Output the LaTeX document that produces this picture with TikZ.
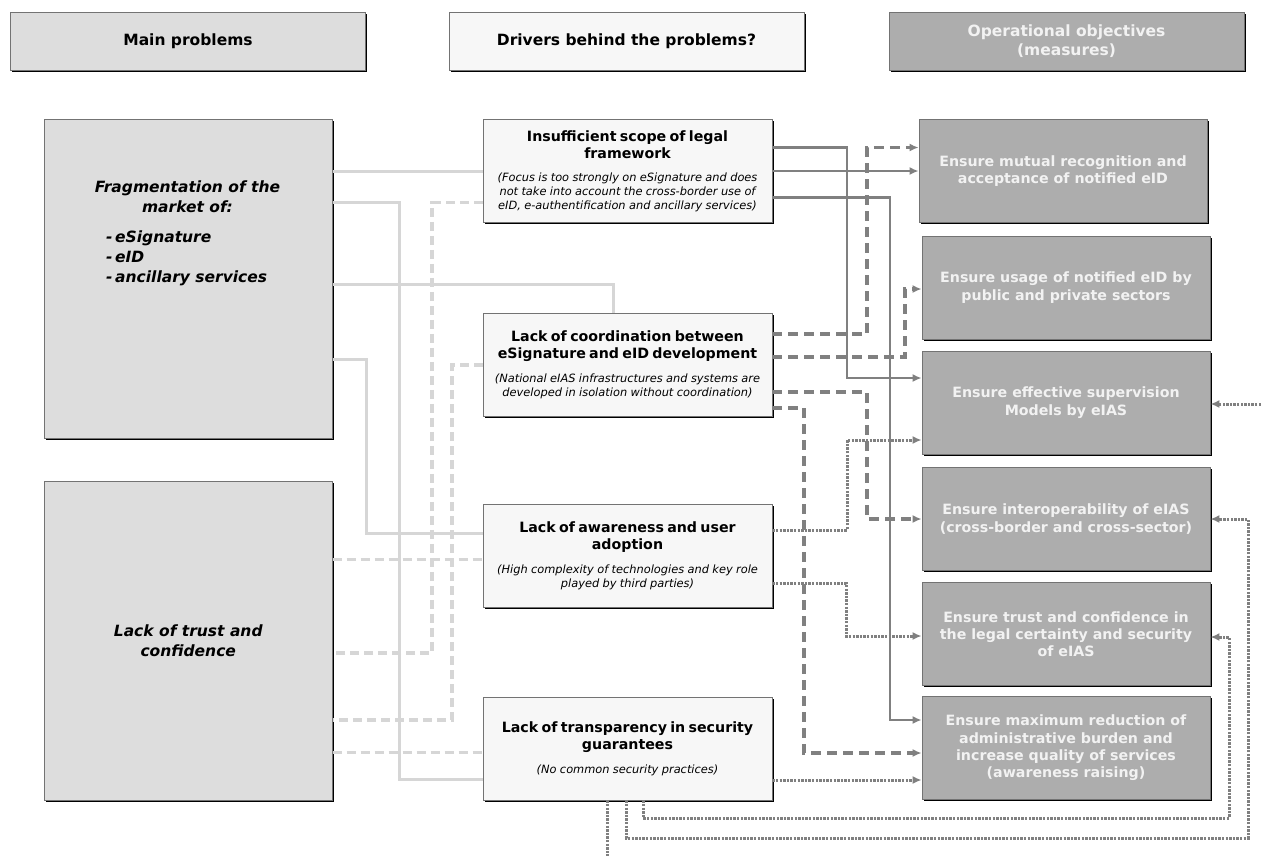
\documentclass[tikz,border=0pt]{standalone}
\usepackage{fontspec}
\setmainfont{DejaVu Sans}
\usepackage{tikz}
\usetikzlibrary{arrows.meta}
\usetikzlibrary{positioning}
\usetikzlibrary{shadows}
\definecolor{pale}{rgb}{0.97, 0.97, 0.97}
\definecolor{lgrey}{rgb}{0.866, 0.866, 0.866}
\definecolor{dgrey}{rgb}{0.68, 0.68, 0.68}
\definecolor{edge}{rgb}{0.45, 0.45, 0.45}
\definecolor{wirel}{rgb}{0.84, 0.84, 0.84}
\definecolor{wired}{rgb}{0.5, 0.5, 0.5}
\definecolor{ink}{rgb}{0.95, 0.95, 0.95}
\tikzset{card/.style = {draw = edge, line width = 0.8pt, inner sep = 0,
                        drop shadow = {shadow xshift = 1.5pt, shadow yshift = -1.5pt, fill = black, opacity = 1}}}
\tikzset{head/.style = {card, minimum width = 355pt, minimum height = 58pt, align = center,
                        font = \fontsize{15.5}{19}\selectfont\bfseries}}
\tikzset{prob/.style = {card, fill = lgrey, minimum width = 288pt, minimum height = 319pt, align = center,
                        font = \fontsize{15.5}{20}\selectfont\bfseries\itshape}}
\tikzset{probtext/.style = {font = \fontsize{15.5}{20}\selectfont\bfseries\itshape, align = center, inner sep = 0}}
\tikzset{driver/.style = {card, fill = pale, minimum width = 289pt, minimum height = 103pt,
                          text width = 288pt, align = center}}
\tikzset{goal/.style = {card, fill = dgrey, text = ink, minimum width = 288pt, minimum height = 103pt,
                        align = center, font = \fontsize{14.2}{17.3}\selectfont\bfseries}}
\tikzset{feed/.style = {wirel, line width = 3pt}}
\tikzset{feeddash/.style = {feed, line width = 3.3pt, dash pattern = on 9pt off 5pt}}
\tikzset{link/.style = {wired, line width = 2.3pt, -{Latex[length = 9pt, width = 8pt]}}}
\tikzset{linkdash/.style = {link, line width = 3.3pt, dash pattern = on 10pt off 6pt}}
\tikzset{linkdot/.style = {link, line width = 3pt, dash pattern = on 2.4pt off 1.2pt}}
\newcommand{\drvtitle}[1]{{\fontsize{14.2}{17}\selectfont\bfseries #1\par}\vspace{10pt}}
\newcommand{\drvnote}[1]{{\fontsize{11.4}{13.8}\selectfont\itshape #1\par}}

\begin{document}
\begin{tikzpicture}[x = 1pt, y = -1pt]
    \useasboundingbox (0, 0) rectangle (1261, 855);
    \clip (0, 0) rectangle (1261, 855);

    \node [head, fill = lgrey] (hprob) at (188, 41.5) {Main problems};
    \node [head, fill = pale] (hdriv) at (626.5, 41.5) {Drivers behind the problems?};
    \node [head, fill = dgrey, text = ink] (hgoal) at (1066.5, 41.5) {Operational objectives\\(measures)};

    \node [prob] (frag) at (188.25, 279.25) {};
    \node [probtext] (fragtext) at (187.5, 196.5) {Fragmentation of the\\market of:};
    \node [probtext, align = left, anchor = north west] (fraglist) at (106, 231) {-\,eSignature\\-\,eID\\-\,ancillary services};
    \node [prob] (trust) at (188.25, 640.5) {Lack of trust and\\confidence};

    \node [driver] (ins) at (627.5, 171) {\drvtitle{Insufficient scope of legal\\framework}\drvnote{(Focus is too strongly on eSignature and does\\not take into account the cross-border use of\\eID, e-authentification and ancillary services)}};
    \node [driver] (coord) at (627.5, 364.5) {\drvtitle{Lack of coordination between\\eSignature and eID development}\drvnote{(National eIAS infrastructures and systems are\\developed in isolation without coordination)}};
    \node [driver] (aware) at (627.5, 555.75) {\drvtitle{Lack of awareness and user\\adoption}\drvnote{(High complexity of technologies and key role\\played by third parties)}};
    \node [driver] (trans) at (627.5, 748.5) {\drvtitle{Lack of transparency in security\\guarantees}\drvnote{(No common security practices)}};

    \node [goal] (obj1) at (1063, 171) {Ensure mutual recognition and\\acceptance of notified eID};
    \node [goal] (obj2) at (1066, 287.5) {Ensure usage of notified eID by\\public and private sectors};
    \node [goal] (obj3) at (1066, 402.5) {Ensure effective supervision\\Models by eIAS};
    \node [goal] (obj4) at (1066, 519) {Ensure interoperability of eIAS\\(cross-border and cross-sector)};
    \node [goal] (obj5) at (1066, 634) {Ensure trust and confidence in\\the legal certainty and security\\of eIAS};
    \node [goal] (obj6) at (1066, 748) {Ensure maximum reduction of\\administrative burden and\\increase quality of services\\(awareness raising)};

    \draw [feed] (frag.east |- 0, 171) -- (ins.west |- 0, 171);
    \draw [feed] (frag.east |- 0, 202) -| (399, 779) -- (trans.west |- 0, 779);
    \draw [feed] (frag.east |- 0, 284.5) -| (coord.north -| 613, 0);
    \draw [feed] (frag.east |- 0, 359.5) -| (366, 533.5) -- (aware.west |- 0, 533.5);
    \draw [feeddash] (ins.west |- 0, 202.5) -| (432, 653) -- (trust.east |- 0, 653);
    \draw [feeddash] (coord.west |- 0, 365) -| (452, 720) -- (trust.east |- 0, 720);
    \draw [feeddash] (trust.east |- 0, 559.5) -- (aware.west |- 0, 559.5);
    \draw [feeddash] (trust.east |- 0, 752.5) -- (trans.west |- 0, 752.5);

    \draw [link] (ins.east |- 0, 147.5) -| (847, 378) -- (obj3.west |- 0, 378);
    \draw [link] (ins.east |- 0, 171) -- (obj1.west |- 0, 171);
    \draw [link] (ins.east |- 0, 197.5) -| (890, 720) -- (obj6.west |- 0, 720);
    \draw [linkdash] (coord.east |- 0, 334) -| (867, 147.5) -- (obj1.west |- 0, 147.5);
    \draw [linkdash] (coord.east |- 0, 357) -| (905, 289) -- (obj2.west |- 0, 289);
    \draw [linkdash] (coord.east |- 0, 392) -| (867, 519) -- (obj4.west |- 0, 519);
    \draw [linkdash] (coord.east |- 0, 408) -| (804, 753) -- (obj6.west |- 0, 753);
    \draw [linkdot] (aware.east |- 0, 530) -| (847, 440) -- (obj3.west |- 0, 440);
    \draw [linkdot] (aware.east |- 0, 583) -| (846, 636) -- (obj5.west |- 0, 636);
    \draw [linkdot] (trans.east |- 0, 780) -- (obj6.west |- 0, 780);
    \draw [linkdot] (trans.south -| 643, 0) -- (643, 818) -| (1229, 637) -- (obj5.east |- 0, 637);
    \draw [linkdot] (trans.south -| 626, 0) -- (626, 838) -| (1248, 519) -- (obj4.east |- 0, 519);
    \draw [linkdot] (trans.south -| 607, 0) -- (607, 875) -| (1275, 404) -- (obj3.east |- 0, 404);
\end{tikzpicture}
\end{document}
